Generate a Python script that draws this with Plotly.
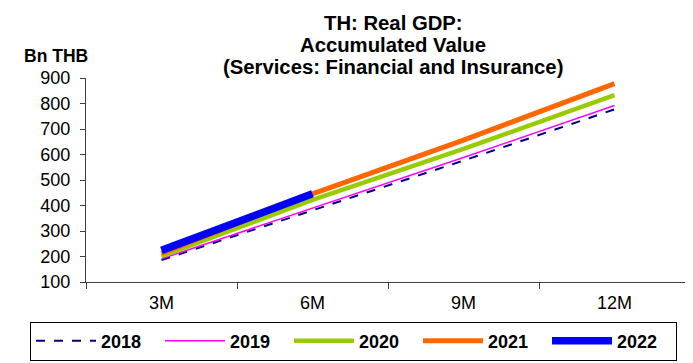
import plotly.graph_objects as go

# DATA
periods = ['3M', '6M', '9M', '12M']
years = ['2018', '2019', '2020', '2021', '2022']
gdp_2018 = [186, 380, 576, 777]
gdp_2019 = [191, 388, 588, 792]
gdp_2020 = [201, 422, 622, 833]
gdp_2021 = [212, 446, 656, 878]
gdp_2022 = [224, 446]

title_lines = ['TH: Real GDP:', 'Accumulated Value', '(Services: Financial and Insurance)']

series = [gdp_2018, gdp_2019, gdp_2020, gdp_2021, gdp_2022]
styles = [
    dict(color='#000080', width=2, dash='dash'),
    dict(color='#FF00FF', width=1.5),
    dict(color='#99CC00', width=4.5),
    dict(color='#FF6600', width=5),
    dict(color='#0000FF', width=7.5),
]

fig = go.Figure()
for name, vals, line in zip(years, series, styles):
    fig.add_trace(go.Scatter(
        x=periods[:len(vals)], y=vals, name=name, mode='lines', line=line,
    ))

# title written as three lines to get the tight line spacing
notes = []
for txt, ypos in zip(title_lines, [1.268, 1.161, 1.0545]):
    notes.append(dict(
        text=f'<b>{txt}</b>', x=0.5083, xref='paper', xanchor='center',
        y=ypos, yref='paper', yanchor='middle', showarrow=False,
        font=dict(size=20.3),
    ))
notes.append(dict(
    text='<b>Bn THB</b>', x=-0.106, xref='paper', xanchor='left',
    y=1.109, yref='paper', yanchor='middle', showarrow=False,
    font=dict(size=17.5),
))

# page body adds 8px offset, so the figure is 8px smaller
fig.update_layout(
    width=685, height=355,
    margin=dict(l=78, r=3, t=70, b=74),
    paper_bgcolor='white', plot_bgcolor='white',
    font=dict(family='Liberation Sans, Arial', size=18, color='black'),
    showlegend=True,
    legend=dict(
        orientation='h', x=-0.0927, xanchor='left', y=-0.194, yanchor='top',
        bordercolor='black', borderwidth=1, bgcolor='white',
        font=dict(size=18, weight='bold'),
        itemwidth=60, entrywidth=54, entrywidthmode='pixels',
        traceorder='normal',
    ),
    annotations=notes,
)

fig.update_xaxes(
    type='category', range=[-0.5, 3.5], tickson='boundaries',
    ticks='outside', ticklen=6, tickcolor='#404040',
    showline=True, linecolor='#404040', linewidth=1,
    showgrid=False, ticklabelstandoff=4,
)
fig.update_yaxes(
    range=[100, 900], dtick=100, ticks='outside', ticklen=5,
    tickcolor='#404040', showline=True, linecolor='#404040', linewidth=1,
    showgrid=False, zeroline=False, ticklabelstandoff=6,
)

fig.write_html('out.html')
